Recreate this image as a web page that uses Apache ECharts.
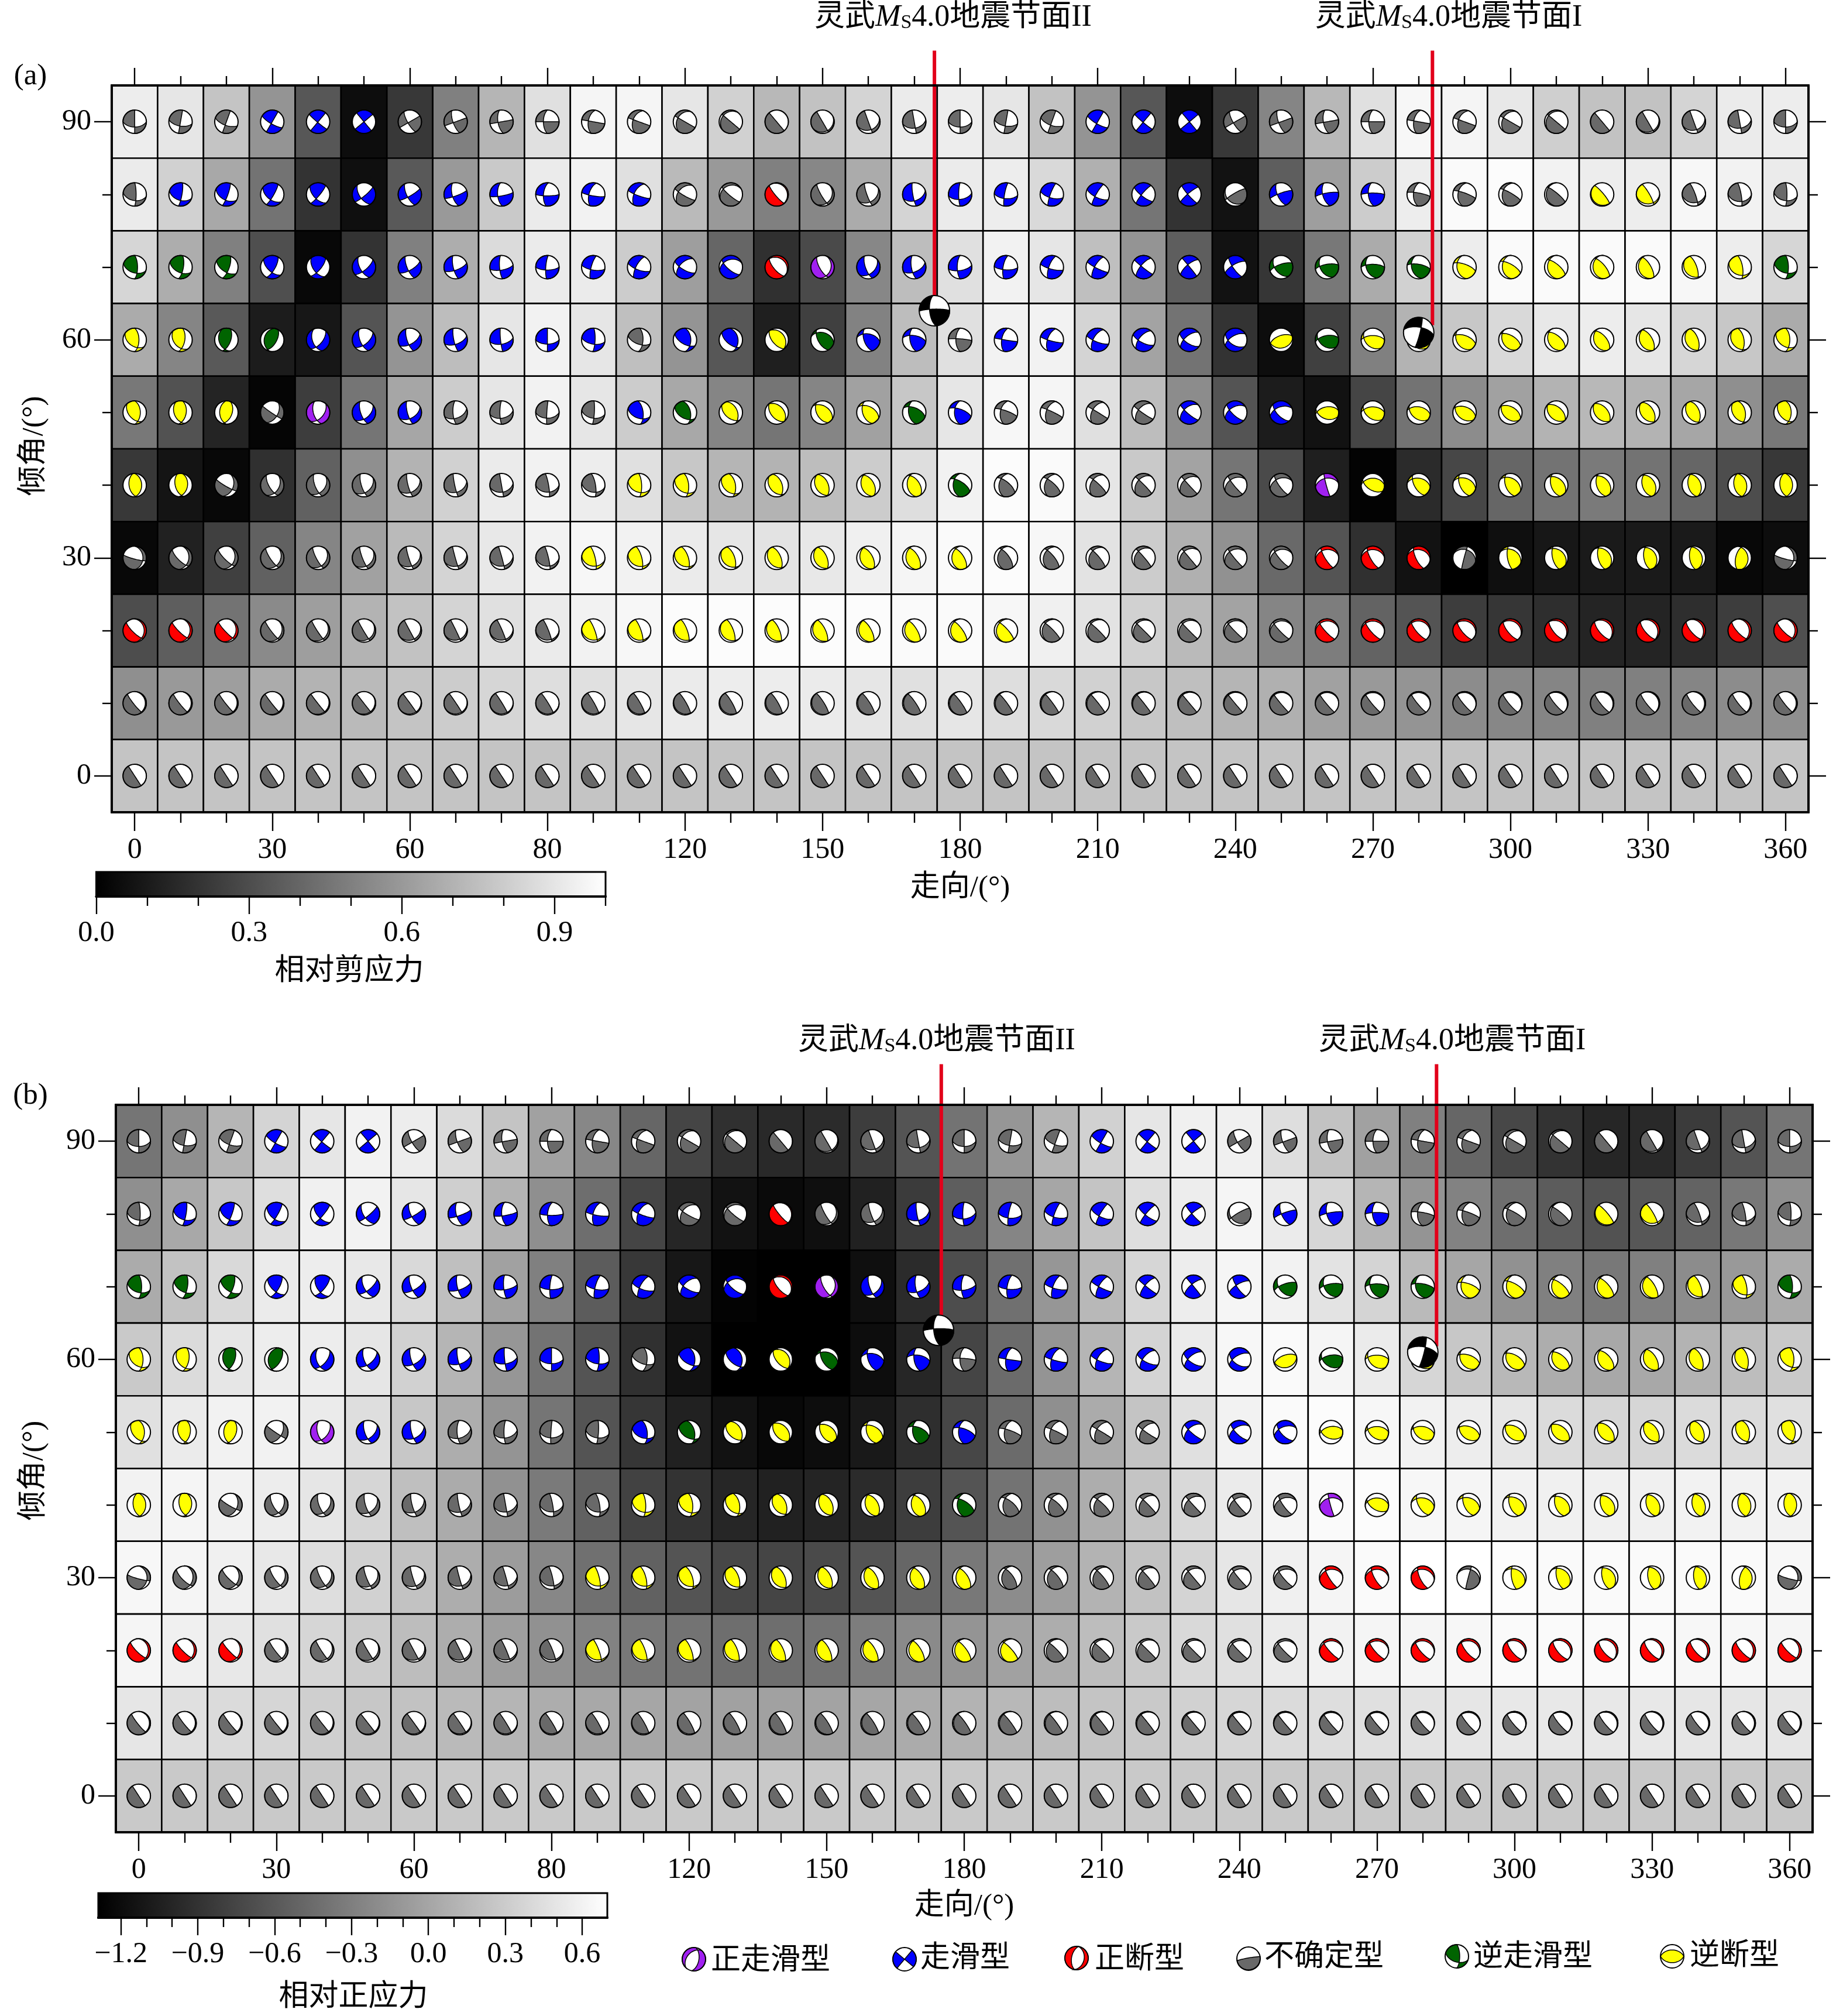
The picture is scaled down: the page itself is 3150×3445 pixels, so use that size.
<!DOCTYPE html>
<html>
<head>
<meta charset="utf-8">
<title>相对剪应力与相对正应力</title>
<script src="https://cdn.jsdelivr.net/npm/echarts@6/dist/echarts.min.js"></script>
<style>html,body{margin:0;padding:0;background:#fff}</style>
</head>
<body>
<div id="main" style="width:3150px;height:3445px"></div>
<script>
// 走向 / 倾角
var strikes = [0,10,20,30,40,50,60,70,80,90,100,110,120,130,140,150,160,170,180,190,200,210,220,230,240,250,260,270,280,290,300,310,320,330,340,350,360];
var dips = [90,80,70,60,50,40,30,20,10,0];

// 相对剪应力, one row per dip
var shearRows = [
[.93,.90,.77,.58,.34,.05,.22,.50,.71,.88,.96,.96,.90,.82,.72,.76,.83,.92,.93,.90,.76,.58,.34,.05,.22,.52,.72,.88,.97,.96,.91,.81,.76,.76,.83,.92,.93],
[.92,.82,.66,.45,.20,.06,.35,.60,.79,.92,.95,.88,.73,.60,.50,.53,.67,.83,.92,.93,.85,.69,.46,.20,.07,.37,.62,.80,.93,.98,.99,.95,.93,.93,.97,.95,.92],
[.84,.68,.50,.31,.03,.20,.50,.68,.86,.92,.92,.80,.62,.40,.19,.29,.53,.74,.88,.95,.90,.75,.58,.37,.07,.21,.47,.67,.82,.93,.98,.98,.98,.98,.97,.93,.84],
[.67,.52,.35,.11,.09,.33,.58,.74,.90,.95,.90,.75,.58,.34,.12,.25,.51,.74,.88,.95,.95,.83,.64,.45,.20,.05,.25,.50,.70,.78,.85,.91,.93,.90,.84,.78,.67],
[.47,.32,.14,.02,.24,.46,.65,.80,.90,.95,.90,.80,.66,.52,.46,.52,.63,.78,.90,.97,.96,.88,.74,.55,.33,.11,.07,.27,.45,.55,.63,.70,.72,.70,.65,.56,.47],
[.22,.08,.03,.19,.38,.56,.70,.82,.92,.95,.93,.88,.78,.71,.70,.74,.80,.87,.95,.99,.98,.90,.79,.64,.46,.29,.12,.01,.17,.28,.40,.45,.48,.45,.40,.30,.22],
[.03,.13,.25,.38,.52,.63,.73,.83,.91,.95,.97,.95,.92,.90,.89,.91,.94,.96,.98,.99,.97,.89,.80,.69,.57,.41,.33,.19,.07,0,.06,.09,.10,.10,.10,.03,.05],
[.30,.37,.45,.54,.62,.70,.76,.83,.88,.92,.95,.97,.99,.99,.99,.99,.99,.98,.98,.97,.94,.89,.82,.73,.64,.52,.49,.39,.33,.24,.21,.18,.14,.14,.18,.24,.31],
[.56,.60,.62,.67,.70,.73,.77,.80,.84,.87,.88,.90,.92,.93,.93,.92,.90,.88,.90,.87,.85,.82,.78,.75,.71,.69,.63,.60,.58,.55,.53,.52,.50,.50,.52,.55,.56],
[.77,.77,.77,.77,.77,.77,.77,.77,.77,.77,.77,.77,.77,.77,.77,.77,.77,.77,.77,.77,.77,.77,.77,.77,.77,.77,.77,.77,.77,.77,.77,.77,.77,.77,.77,.77,.77]
];

// 相对正应力
var normalRows = [
[-.37,-.17,.13,.37,.51,.61,.57,.43,.25,-.03,-.23,-.49,-.75,-.91,-.97,-.95,-.81,-.63,-.39,-.11,.13,.35,.51,.59,.59,.45,.23,-.03,-.29,-.49,-.73,-.89,-.99,-.97,-.83,-.63,-.37],
[-.17,.03,.27,.45,.59,.61,.51,.33,.11,-.17,-.43,-.75,-.99,-1.15,-1.21,-1.17,-1.03,-.83,-.55,-.25,.01,.25,.45,.57,.63,.55,.39,.13,-.13,-.27,-.43,-.57,-.65,-.61,-.51,-.35,-.17],
[.05,.23,.41,.55,.57,.53,.41,.21,-.03,-.29,-.57,-.85,-1.11,-1.27,-1.29,-1.29,-1.17,-.95,-.69,-.41,-.11,.15,.39,.57,.63,.61,.49,.37,.17,.01,-.15,-.29,-.35,-.29,-.19,-.09,.05],
[.29,.43,.51,.57,.57,.51,.35,.13,-.11,-.39,-.63,-.91,-1.15,-1.29,-1.29,-1.29,-1.19,-.99,-.75,-.45,-.13,.13,.37,.55,.65,.67,.63,.55,.39,.27,.15,.07,.03,.03,.11,.19,.29],
[.47,.55,.61,.61,.55,.45,.27,.07,-.13,-.37,-.63,-.87,-1.03,-1.15,-1.23,-1.19,-1.09,-.93,-.73,-.45,-.17,.05,.25,.47,.61,.67,.69,.65,.61,.57,.51,.43,.39,.39,.43,.43,.47],
[.61,.63,.61,.57,.51,.39,.21,.05,-.15,-.33,-.53,-.77,-.89,-.99,-1.03,-1.01,-.95,-.81,-.63,-.39,-.15,.07,.25,.41,.55,.63,.67,.69,.65,.63,.61,.59,.59,.59,.61,.61,.61],
[.65,.63,.59,.53,.45,.35,.23,.07,-.07,-.23,-.41,-.53,-.63,-.73,-.75,-.71,-.63,-.49,-.35,-.19,-.05,.11,.23,.37,.51,.59,.63,.67,.71,.71,.69,.67,.67,.67,.67,.67,.65],
[.63,.59,.53,.47,.39,.31,.19,.07,-.05,-.15,-.27,-.35,-.39,-.43,-.43,-.39,-.31,-.21,-.13,-.03,.07,.19,.29,.41,.47,.55,.61,.63,.63,.65,.67,.67,.67,.67,.65,.65,.63],
[.51,.47,.43,.39,.33,.27,.23,.17,.13,.07,.03,.01,-.01,-.03,-.03,-.01,.01,.05,.11,.15,.19,.25,.29,.35,.39,.43,.45,.47,.49,.51,.53,.53,.53,.53,.51,.51,.51],
[.29,.29,.29,.29,.29,.29,.29,.29,.29,.29,.29,.29,.29,.29,.29,.29,.29,.29,.29,.29,.29,.29,.29,.29,.29,.29,.29,.29,.29,.29,.29,.29,.29,.29,.29,.29,.29]
];

// 滑动角 (same in both panels)
var rakeRows = [
[143,150,155,165,175,180,-15,-18,-25,-28,-35,-45,-58,-72,-90,-105,-120,-135,-143,-150,-155,-165,-175,180,15,18,25,28,35,45,58,72,90,105,120,135,143],
[136,138,140,142,148,-32,-22,-25,-28,-28,-30,-35,-50,-68,-92,-110,-125,-135,-145,-150,-155,-158,-165,-172,65,25,30,32,38,48,60,78,92,108,118,128,136],
[137,140,145,147,142,-30,-20,-18,-15,-12,-15,-22,-38,-60,-85,-112,-130,-145,-155,-160,-165,-170,-175,178,-165,45,50,50,55,60,65,72,78,85,100,118,137],
[125,120,112,100,-48,-32,-22,-15,-8,0,15,32,50,65,88,115,130,145,172,-178,-170,-162,-155,-150,-135,85,62,65,72,72,75,78,82,88,95,105,125],
[118,112,104,-6,-45,-30,-22,-25,-15,-5,10,38,55,72,92,108,120,135,150,165,172,178,-172,-165,-155,-145,70,65,72,78,83,88,92,96,100,108,118],
[97,110,-13,-37,-35,-28,-19,-10,0,13,25,28,42,57,74,85,97,108,140,143,152,163,173,-177,-168,-160,-173,66,48,53,59,66,74,81,86,92,97],
[-17,-39,-28,-29,-25,-21,-14,-5,6,15,27,39,52,63,75,85,97,107,119,131,145,157,169,180,-169,-157,-155,-147,-140,6,44,59,68,73,80,70,-17],
[-46,-36,-28,-24,-18,-10,-2,6,14,23,32,41,52,62,74,86,98,110,124,140,153,165,175,-175,-165,-155,-146,-137,-128,-119,-110,-100,-90,-80,-70,-59,-46],
[-52,-42,-32,-22,-12,-2,6,14,22,32,40,50,60,70,80,92,102,114,125,136,146,158,168,180,-170,-160,-150,-140,-130,-120,-110,-100,-91,-82,-72,-62,-52],
[-57,-47,-37,-27,-17,-7,3,13,23,33,43,53,63,73,83,93,103,113,123,133,143,153,163,173,-177,-167,-157,-147,-137,-127,-117,-107,-97,-87,-77,-67,-57]
];

// mechanism per cell: P 正走滑 B 走滑 R 正断 G 不确定 D 逆走滑 Y 逆断
var mechanismRows = [
'GGGBBBGGGGGGGGGGGGGGGBBBGGGGGGGGGGGGG',
'GBBBBBBBBBBBGGRGGBBBBBBBGBBBGGGGYYGGG',
'DDDBBBBBBBBBBBRPBBBBBBBBBDDDDYYYYYYYD',
'YYDDBBBBBBBGBBYDBBGBBBBBBYDYYYYYYYYYY',
'YYYGPBBGGGGBDYYYYDBGGGGBBBYYYYYYYYYYY',
'YYGGGGGGGGGYYYYYYYDGGGGGGGPYYYYYYYYYY',
'GGGGGGGGGGYYYYYYYYYGGGGGGGRRRGYYYYYYG',
'RRRGGGGGGGYYYYYYYYYYGGGGGGRRRRRRRRRRR',
'GGGGGGGGGGGGGGGGGGGGGGGGGGGGGGGGGGGGG',
'GGGGGGGGGGGGGGGGGGGGGGGGGGGGGGGGGGGGG'
];
var mechanismColors = {P:'#a020f0', B:'#0000ff', R:'#ff0000', G:'#696969', D:'#006400', Y:'#ffff00', K:'#000000'};

// 灵武 MS4.0 nodal planes: [strike, dip, rake]
var nodalPlanes = [[174.4,64,170],[280,61,-8]];
var planeLineStrikes = [[174.4,283],[175,283]];
var planeLineBottoms = [[65.7,62],[66,61.8]];
var planeLineTop = [99.8,100.6];

var strikeMajor = [0,30,60,90,120,150,180,210,240,270,300,330,360];
var strikeMinor = [10,20,40,50,70,80,100,110,130,140,160,170,190,200,220,230,250,260,280,290,310,320,340,350];
var strikeLabels = ['0','30','60','80','120','150','180','210','240','270','300','330','360'];
var dipMajor = [0,30,60,90];
var dipMinor = [10,20,40,50,70,80];

var shearExtent = [0,1];
var shearMajor = [0,.3,.6,.9];
var shearMinor = [.1,.2,.4,.5,.7,.8,1];
var normalExtent = [-1.288,.698];
var normalMajor = [-1.2,-.9,-.6,-.3,0,.3,.6];
var normalMinor = [-1.1,-1,-.8,-.7,-.5,-.4,-.2,-.1,.1,.2,.4,.5];

var legendNames = ['正走滑型','走滑型','正断型','不确定型','逆走滑型','逆断型'];
var legendTypes = ['P','B','R','G','D','Y'];
var legendPlanes = [[10,55,-110],[40,90,0],[10,35,-90],[80,5,90],[0,70,137],[90,45,90]];

var SERIF = '"Liberation Serif","Noto Sans CJK SC"';
var R_BALL = 20, R_EVENT = 26;

function cross(a,b){return [a[1]*b[2]-a[2]*b[1],a[2]*b[0]-a[0]*b[2],a[0]*b[1]-a[1]*b[0]];}
function dot(a,b){return a[0]*b[0]+a[1]*b[1]+a[2]*b[2];}
function unit(a){var l=Math.sqrt(dot(a,a));return [a[0]/l,a[1]/l,a[2]/l];}

// lower hemisphere, equal area; returns the polygons of the T quadrants
function beachball(strike,dip,rake,cx,cy,R){
    var d2r=Math.PI/180;
    var s=strike*d2r, d=Math.min(Math.max(dip,.02),89.98)*d2r, r=(rake+.013)*d2r;
    var n=[-Math.sin(d)*Math.sin(s),Math.sin(d)*Math.cos(s),-Math.cos(d)];
    var v=[Math.cos(r)*Math.cos(s)+Math.sin(r)*Math.cos(d)*Math.sin(s),
           Math.cos(r)*Math.sin(s)-Math.sin(r)*Math.cos(d)*Math.cos(s),
           -Math.sin(r)*Math.sin(d)];
    var b=unit(cross(n,v));
    if(b[2]<0) b=[-b[0],-b[1],-b[2]];
    function proj(p){
        var h=Math.sqrt(p[0]*p[0]+p[1]*p[1])||1e-9;
        var rr=R*Math.SQRT2*Math.sin(Math.acos(Math.min(1,Math.max(0,p[2])))/2);
        return [cx+rr*p[1]/h,cy-rr*p[0]/h];
    }
    var arcs=[];
    [n,v].forEach(function(w){
        var e=unit(cross(w,b));
        [1,-1].forEach(function(sg){
            var t=[e[0]*sg,e[1]*sg,e[2]*sg];
            var end=Math.atan2(b[2],-t[2]);
            var pts=[];
            for(var i=0;i<=16;i++){
                var f=end*i/16;
                pts.push([b[0]*Math.cos(f)+t[0]*Math.sin(f),b[1]*Math.cos(f)+t[1]*Math.sin(f),Math.max(0,b[2]*Math.cos(f)+t[2]*Math.sin(f))]);
            }
            var last=pts[16];
            arcs.push({az:(Math.atan2(last[1],last[0])+2*Math.PI)%(2*Math.PI),pts:pts});
        });
    });
    arcs.sort(function(a,c){return a.az-c.az;});
    var polys=[];
    for(var k=0;k<4;k++){
        var a1=arcs[k],a2=arcs[(k+1)%4];
        var from=a1.az,to=a2.az;
        if(to<from) to+=2*Math.PI;
        var mid=(from+to)/2, pm=[Math.cos(mid),Math.sin(mid),0];
        if(dot(n,pm)*dot(v,pm)<=0) continue;
        var poly=a1.pts.map(proj);
        var steps=Math.ceil((to-from)/(3*d2r));
        for(var j=1;j<steps;j++){
            var az=from+(to-from)*j/steps;
            poly.push(proj([Math.cos(az),Math.sin(az),0]));
        }
        poly=poly.concat(a2.pts.slice().reverse().map(proj));
        polys.push(poly);
    }
    return polys;
}

function ballGroup(strike,dip,rake,cx,cy,R,color){
    var kids=[{type:'circle',shape:{cx:cx,cy:cy,r:R},style:{fill:'#fff',stroke:null}}];
    beachball(strike,dip,rake,cx,cy,R).forEach(function(p){
        kids.push({type:'polygon',shape:{points:p},style:{fill:color,stroke:'#000',lineWidth:1.5}});
    });
    kids.push({type:'circle',shape:{cx:cx,cy:cy,r:R},style:{fill:null,stroke:'#000',lineWidth:2}});
    return {type:'group',children:kids};
}

var grids=[],xAxes=[],yAxes=[],series=[],visualMaps=[];

function axisBase(extra){
    return Object.assign({type:'value',splitLine:{show:false},z:6,
        axisLine:{show:true,onZero:false,lineStyle:{color:'#000',width:4}}},extra);
}
function addTickAxes(list,gridIndex,pos,ext,major,minor,len,labels,margin){
    var first=list.length;
    list.push(axisBase({gridIndex:gridIndex,position:pos,min:ext[0],max:ext[1],
        axisTick:{show:true,length:len[0],customValues:major,lineStyle:{color:'#000',width:2.4}},
        axisLabel:labels?{show:true,customValues:major,margin:margin,color:'#000',fontFamily:SERIF,fontSize:50,
            formatter:function(v){return labels[major.indexOf(v)];}}:{show:false}}));
    list.push(axisBase({gridIndex:gridIndex,position:pos,min:ext[0],max:ext[1],
        axisTick:{show:true,length:len[1],customValues:minor,lineStyle:{color:'#000',width:2.4}},
        axisLabel:{show:false}}));
    return first;
}

function addPanel(rows,box,range,panel){
    var gi=grids.length;
    grids.push({left:box[0],top:box[1],width:box[2],height:box[3],containLabel:false});
    var xi=addTickAxes(xAxes,gi,'bottom',[-5,365],strikeMajor,strikeMinor,[32,18],strikeLabels,40);
    addTickAxes(xAxes,gi,'top',[-5,365],strikeMajor,strikeMinor,[30,16]);
    var yi=addTickAxes(yAxes,gi,'left',[-5,95],dipMajor,dipMinor,[30,16],dipMajor.map(String),35);
    addTickAxes(yAxes,gi,'right',[-5,95],dipMajor,dipMinor,[30,16]);

    var cells=[],balls=[];
    dips.forEach(function(dip,r){
        strikes.forEach(function(st,c){
            cells.push([st,dip,rows[r][c]]);
            balls.push([st,dip,rakeRows[r][c],mechanismRows[r].charAt(c)]);
        });
    });
    visualMaps.push({show:false,seriesIndex:series.length,dimension:2,min:range[0],max:range[1],inRange:{color:['#000000','#ffffff']}});
    series.push({type:'custom',name:'cells',xAxisIndex:xi,yAxisIndex:yi,data:cells,z:2,
        encode:{x:0,y:1},
        renderItem:function(params,api){
            var a=api.coord([api.value(0)-5,api.value(1)+5]);
            var b=api.coord([api.value(0)+5,api.value(1)-5]);
            return {type:'rect',shape:{x:a[0],y:a[1],width:b[0]-a[0],height:b[1]-a[1]},
                style:{fill:api.visual('color'),stroke:'#000',lineWidth:2.6}};
        }});
    series.push({type:'custom',name:'balls',xAxisIndex:xi,yAxisIndex:yi,z:3,data:balls,
        encode:{x:0,y:1},dimensions:['strike','dip','rake',{name:'type',type:'ordinal'}],
        renderItem:function(params,api){
            var d=balls[params.dataIndex];
            var c=api.coord([d[0],d[1]]);
            return ballGroup(d[0],d[1],d[2],c[0],c[1],R_BALL,mechanismColors[d[3]]);
        }});
    planeLineStrikes[panel].forEach(function(st,i){
        series.push({type:'line',xAxisIndex:xi,yAxisIndex:yi,z:4,clip:false,symbol:'none',silent:true,
            lineStyle:{color:'#e2001a',width:6},
            data:[[st,planeLineTop[panel]],[st,planeLineBottoms[panel][i]]]});
    });
    series.push({type:'custom',name:'events',xAxisIndex:xi,yAxisIndex:yi,z:5,clip:false,
        data:nodalPlanes,encode:{x:0,y:1},
        renderItem:function(params,api){
            var d=nodalPlanes[params.dataIndex];
            var c=api.coord([d[0],d[1]]);
            return ballGroup(d[0],d[1],d[2],c[0],c[1],R_EVENT,mechanismColors.K);
        }});
}

function addColorbar(box,ext,major,minor){
    var gi=grids.length;
    grids.push({left:box[0],top:box[1],width:box[2],height:box[3]});
    var fmt=major.map(function(v){return v.toFixed(1).replace('-','\u2212');});
    var xi=addTickAxes(xAxes,gi,'bottom',ext,major,minor,[30,16],fmt,38);
    var yi=yAxes.length;
    yAxes.push({type:'value',gridIndex:gi,min:0,max:1,show:false});
    series.push({type:'custom',xAxisIndex:xi,yAxisIndex:yi,z:3,data:[[ext[0],ext[1]]],encode:{x:[0,1]},
        renderItem:function(params,api){
            var a=api.coord([api.value(0),1]),b=api.coord([api.value(1),0]);
            return {type:'rect',shape:{x:a[0],y:a[1],width:b[0]-a[0],height:b[1]-a[1]},
                style:{fill:new echarts.graphic.LinearGradient(0,0,1,0,[{offset:0,color:'#000'},{offset:1,color:'#fff'}]),stroke:'#000',lineWidth:3}};
        }});
}

addPanel(shearRows,[191,146,2900,1242],shearExtent,0);
addPanel(normalRows,[198,1888,2900,1243],[-1.29,.71],1);
addColorbar([164.5,1490,870.5,42],shearExtent,shearMajor,shearMinor);
addColorbar([168,3235,870,42],normalExtent,normalMajor,normalMinor);

// legend glyphs, placed in page pixels
var legendGlyphX = [1186,1546,1840,2134,2490,2858];
var legendGlyphY = [3348,3348,3346,3347,3343,3343];
var legendTextX = [1215,1573,1871,2161,2518,2888];
var legendTextY = [3352,3348,3350,3346,3346,3344];
series.push({type:'custom',coordinateSystem:'none',z:5,data:legendTypes.map(function(t,i){return [i];}),
    renderItem:function(params){
        var i=params.dataIndex,p=legendPlanes[i];
        return ballGroup(p[0],p[1],p[2],legendGlyphX[i],legendGlyphY[i],R_BALL,mechanismColors[legendTypes[i]]);
    }});

function txt(text,x,y,opt){
    return {type:'text',x:x,y:y,rotation:(opt&&opt.rotation)||0,z:20,silent:true,
        style:Object.assign({text:text,fill:'#000',font:'51px '+SERIF,align:'center',verticalAlign:'middle'},opt&&opt.style)};
}
function eventTitle(suffix,x,y){
    return {type:'text',x:x,y:y,z:20,silent:true,style:{
        text:'{t|灵武}{m|M}{s|S}{t|4.0地震节面'+suffix+'}',align:'center',verticalAlign:'middle',
        rich:{t:{fontFamily:SERIF,fontSize:52,fill:'#000'},
              m:{fontFamily:SERIF,fontSize:52,fontStyle:'italic',fill:'#000'},
              s:{fontFamily:SERIF,fontSize:34,lineHeight:34,fill:'#000',verticalAlign:'bottom',padding:[42,0,0,0]}}}};
}
var graphics=[
    txt('(a)',52,131),txt('(b)',52,1873),
    eventTitle('II',1629,30),eventTitle('I',2476,30),
    eventTitle('II',1601,1779),eventTitle('I',2482,1779),
    txt('倾角/(°)',59,762,{rotation:Math.PI/2}),txt('倾角/(°)',59,2513,{rotation:Math.PI/2}),
    txt('走向/(°)',1641,1518),txt('走向/(°)',1648,3258),
    txt('相对剪应力',597,1661),txt('相对正应力',604,3414)
];
legendNames.forEach(function(n,i){
    graphics.push(txt(n,legendTextX[i],legendTextY[i],{style:{align:'left'}}));
});

var myChart=echarts.init(document.getElementById('main'));
myChart.setOption({
    animation:false,
    backgroundColor:'#fff',
    grid:grids,xAxis:xAxes,yAxis:yAxes,
    visualMap:visualMaps,
    series:series,
    graphic:graphics
});
</script>
</body>
</html>
